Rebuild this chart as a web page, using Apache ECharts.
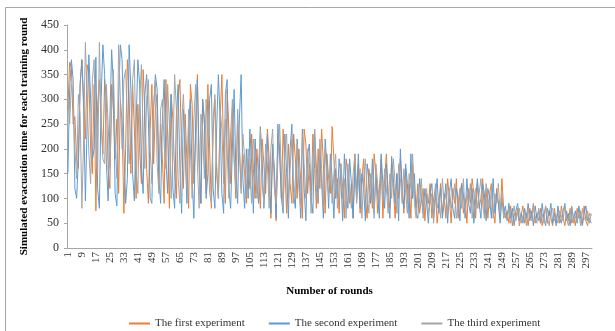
<!DOCTYPE html>
<html><head><meta charset="utf-8">
<script src="https://cdn.jsdelivr.net/npm/echarts@6/dist/echarts.min.js"></script>
<style>html,body{margin:0;padding:0;background:#fff}#c{width:615px;height:331px}</style>
</head><body><div id="c"></div>
<script>
var seriesNames = ['The first experiment', 'The second experiment', 'The third experiment'];
var yTicks = [0, 50, 100, 150, 200, 250, 300, 350, 400, 450];
var rounds = [];
for (var r = 1; r <= 300; r++) rounds.push(String(r));

var first = [
280,375,365,250,265,180,160,330,380,300,
220,370,350,200,150,330,75,290,340,260,
190,340,300,160,120,330,280,180,260,110,
300,250,70,200,380,310,150,330,240,100,
290,200,130,360,280,160,90,240,330,170,
280,310,120,250,180,90,340,230,80,310,
260,150,100,300,340,200,120,270,180,80,
330,290,130,230,350,160,90,300,250,110,
330,200,80,230,300,150,100,260,350,190,
90,320,240,130,280,180,100,250,200,120,
190,150,90,180,120,230,160,100,200,140,
80,220,170,110,240,180,60,200,150,55,
230,190,100,240,160,70,210,130,90,230,
180,100,200,140,60,240,210,110,170,90,
230,160,80,200,120,240,170,70,190,140,
110,245,180,100,140,70,170,120,60,180,
150,90,130,60,190,110,170,70,140,180,
100,60,160,130,80,190,150,70,120,180,
60,140,190,110,80,170,120,60,150,100,
180,130,70,160,90,130,60,170,110,80,
130,70,100,120,55,110,90,130,60,100,
120,50,90,130,70,110,60,140,100,50,
120,90,140,60,110,130,70,100,50,120,
90,140,110,60,130,80,100,140,70,120,
60,110,130,80,50,120,90,60,140,80,
60,75,50,85,45,70,60,80,45,65,
85,50,70,45,80,60,90,50,70,55,
80,45,65,85,50,75,60,45,80,55,
70,50,85,60,45,75,55,80,50,65,
45,80,60,75,50,85,55,45,70,65
];
var second = [
150,320,380,340,120,100,180,330,380,280,
95,250,390,300,180,200,385,120,80,300,
410,350,170,95,260,400,330,110,85,300,
410,380,200,90,140,410,320,150,95,250,
380,330,170,110,310,350,260,100,90,280,
350,320,140,90,260,340,180,110,240,310,
120,80,270,330,160,70,280,200,90,240,
300,140,60,250,340,180,90,300,260,100,
150,300,330,120,80,240,350,260,110,70,
310,340,120,80,200,320,150,90,260,350,
140,80,200,100,240,170,70,220,130,90,
245,180,80,150,230,120,70,210,160,60,
250,200,100,70,230,150,60,200,250,110,
80,220,160,60,240,120,55,190,210,100,
70,240,160,90,200,130,60,220,170,80,
190,140,60,160,100,180,140,55,190,120,
80,180,130,60,160,100,190,80,150,120,
55,170,140,90,180,70,150,110,60,190,
130,80,170,100,60,185,140,90,150,55,
200,110,80,170,130,60,190,100,150,70,
60,140,100,70,120,90,50,110,130,60,
100,140,70,120,60,90,130,50,110,140,
80,60,120,100,55,130,110,60,140,90,
70,120,50,100,140,90,60,130,110,55,
120,100,60,140,70,110,90,50,100,70,
85,55,90,60,80,45,75,90,55,70,
50,80,60,90,55,75,45,85,60,75,
50,90,60,45,80,65,90,50,70,45,
85,60,50,75,90,55,70,45,80,60,
75,50,85,60,45,70,85,55,60,50
];
var third = [
300,250,330,300,200,140,310,270,80,220,
415,300,190,130,340,380,210,150,415,260,
180,170,330,250,160,280,360,220,140,410,
300,200,340,360,260,170,230,340,380,160,
110,290,370,230,160,300,340,200,130,290,
340,170,110,280,300,210,160,330,250,100,
190,350,280,140,90,250,310,220,120,280,
200,100,260,330,170,80,270,240,140,300,
220,110,90,260,310,170,100,280,240,130,
260,200,100,230,300,180,120,280,210,110,
230,180,110,200,150,90,220,190,100,170,
240,130,90,210,170,80,200,240,120,90,
180,250,150,80,200,230,100,160,220,90,
140,210,120,80,230,170,100,200,150,70,
180,240,120,90,220,160,80,200,140,110,
170,90,150,190,80,120,170,100,140,60,
170,120,80,150,190,90,130,160,60,140,
180,110,70,150,120,60,170,130,90,150,
100,160,120,70,150,100,180,130,70,170,
140,90,160,110,70,150,120,190,90,60,
110,90,140,60,100,120,70,90,110,50,
130,80,100,60,140,90,110,70,120,80,
100,130,60,90,120,80,140,70,110,90,
130,60,100,120,80,110,140,90,60,130,
100,80,120,60,110,90,130,70,110,60,
70,60,80,50,65,85,55,70,80,50,
65,75,45,80,60,55,85,65,50,80,
60,70,50,85,60,45,75,80,55,65,
50,75,65,55,85,60,45,70,85,50,
65,55,70,45,80,60,55,75,50,70
];
var colors = ['#ED7D31', '#5B9BD5', '#A5A5A5'];
var font = '"Liberation Serif", "Times New Roman", serif';

var chart = echarts.init(document.getElementById('c'), null, {renderer: 'canvas'});
function mk(name, data, color) {
  return {name: name, type: 'line', data: data, symbol: 'none', smooth: false,
    lineStyle: {color: color, width: 1}, itemStyle: {color: color}, animation: false};
}
chart.setOption({
  animation: false,
  textStyle: {fontFamily: font},
  graphic: [{type: 'rect', shape: {x: 5.5, y: 7.5, width: 640, height: 340},
    style: {fill: 'none', stroke: '#a6a6a6', lineWidth: 1}, silent: true, z: -1}],
  grid: {left: 67, right: 23, top: 25, bottom: 83, containLabel: false},
  legend: {top: 313, left: 124, itemWidth: 21, itemHeight: 2, itemGap: 24, icon: 'rect',
    textStyle: {fontFamily: font, fontSize: 11, color: '#333'},
    data: seriesNames},
  xAxis: {type: 'category', data: rounds, boundaryGap: true,
    name: 'Number of rounds', nameLocation: 'middle', nameGap: 38,
    nameTextStyle: {fontFamily: font, fontSize: 11, fontWeight: 'bold', color: '#000'},
    axisLine: {lineStyle: {color: '#a6a6a6'}}, axisTick: {show: false},
    axisLabel: {interval: 7, rotate: 90, fontFamily: font, fontSize: 11, color: '#333', margin: 4}},
  yAxis: {type: 'value', min: yTicks[0], max: yTicks[yTicks.length - 1], interval: 50,
    name: 'Simulated evacuation time for each training round', nameLocation: 'middle', nameGap: 33,
    nameTextStyle: {fontFamily: font, fontSize: 11, fontWeight: 'bold', color: '#000'},
    axisLine: {show: true, lineStyle: {color: '#a6a6a6'}},
    axisTick: {show: true, length: 3, lineStyle: {color: '#a6a6a6'}},
    splitLine: {show: false},
    axisLabel: {fontFamily: font, fontSize: 12, color: '#333', margin: 8}},
  series: [mk(seriesNames[0], first, colors[0]), mk(seriesNames[1], second, colors[1]), mk(seriesNames[2], third, colors[2])]
});
</script></body></html>
